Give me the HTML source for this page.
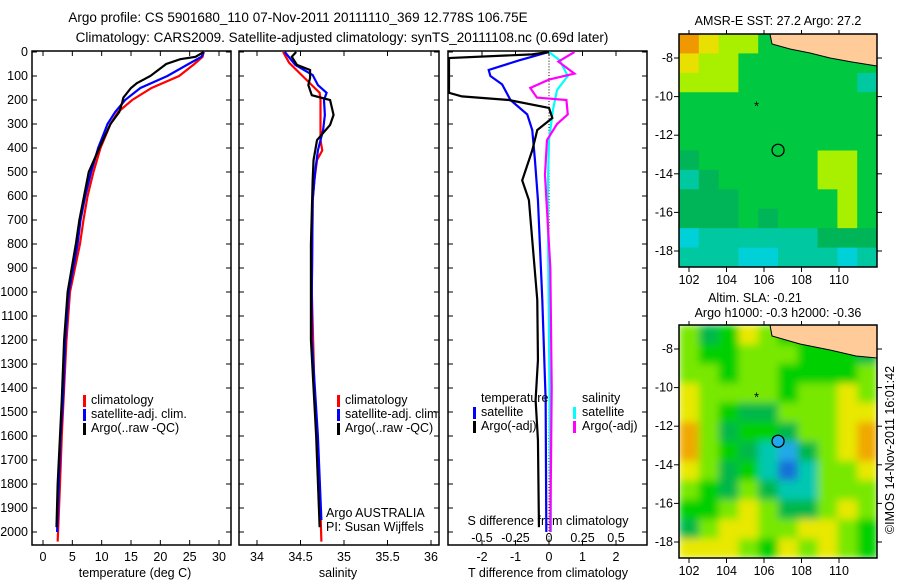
<!DOCTYPE html>
<html><head><meta charset="utf-8"><style>
body{margin:0;background:#fff}
svg{display:block;font-family:"Liberation Sans",sans-serif;font-size:12.5px}
</style></head><body>
<svg id="c" width="900" height="580" viewBox="0 0 900 580">
<defs>
<filter id="blur" x="0" y="0" width="1" height="1"><feGaussianBlur stdDeviation="4" edgeMode="duplicate"/></filter>
<clipPath id="clipSla"><rect x="679" y="325" width="198" height="233"/></clipPath>
</defs>
<text x="298" y="22" text-anchor="middle" font-size="13.5">Argo profile: CS 5901680_110 07-Nov-2011 20111110_369 12.778S 106.75E</text>
<text x="342" y="42" text-anchor="middle" font-size="13.5">Climatology: CARS2009. Satellite-adjusted climatology: synTS_20111108.nc (0.69d later)</text>
<g id="g"></g>
</svg>
<script>
// ---- data ----
const depthTicks=[0,100,200,300,400,500,600,700,800,900,1000,1100,1200,1300,1400,1500,1600,1700,1800,1900,2000];
const tTicks=[0,5,10,15,20,25,30];
const sTicks=[34,34.5,35,35.5,36];
const dTTicks=[-2,-1,0,1,2];
const dSTicks=[-0.5,-0.25,0,0.25,0.5];
const dSTickLabels=["-0.5","-0.25","0","0.25","0.5"];
const tClimDepth=[0,20,50,100,150,200,250,300,400,500,600,700,800,1000,1200,1450,1600,1800,2040];
const tClim=[27.4,27.2,25.8,23.2,18.5,15.2,12.8,11.5,9.8,8.6,7.6,6.9,6.3,4.6,4.0,3.5,3.2,2.9,2.5];
const tSatDepth=[0,20,50,100,150,200,250,300,400,500,600,700,800,1000,1200,1450,1600,1800,2000];
const tSat=[27.4,27.0,24.8,21.2,16.6,14.0,12.3,11.0,9.4,8.2,7.2,6.4,5.9,4.4,3.8,3.4,3.0,2.7,2.4];
const tArgoDepth=[0,20,30,50,100,130,150,190,210,250,300,400,500,600,700,800,1000,1200,1450,1600,1800,1980];
const tArgo=[27.4,26.0,23.4,21.0,18.3,16.0,15.0,13.7,13.5,13.0,11.5,9.6,7.8,7.0,6.2,5.6,4.2,3.6,3.2,2.9,2.5,2.3];
const sClimDepth=[0,45,88,138,170,200,367,410,450,533,617,1000,1400,1800,2040];
const sClim=[34.30,34.37,34.49,34.63,34.72,34.73,34.73,34.75,34.69,34.66,34.64,34.63,34.66,34.72,34.74];
const sSatDepth=[0,54,96,138,170,200,262,325,410,492,617,1000,1200,1600,1950];
const sSat=[34.32,34.44,34.64,34.70,34.80,34.77,34.78,34.76,34.70,34.67,34.64,34.63,34.63,34.70,34.74];
const sArgoDepth=[0,20,54,75,108,138,180,200,262,304,367,450,533,800,1200,1600,1980];
const sArgo=[34.45,34.40,34.46,34.61,34.61,34.59,34.63,34.84,34.88,34.84,34.69,34.65,34.64,34.62,34.62,34.68,34.72];
const dTSatDepth=[0,35,75,100,135,200,260,325,450,617,1033,1450,2000];
const dTSat=[0,-0.9,-1.8,-1.75,-1.4,-1.15,-0.65,-0.5,-0.42,-0.33,-0.2,-0.1,-0.08];
const dTArgoDepth=[0,10,25,170,185,200,233,275,325,410,535,617,783,1033,1283,1450,1617,1980];
const dTArgo=[0,-0.5,-3.2,-3.2,-2.6,-1.2,0,0.1,-0.35,-0.5,-0.8,-0.6,-0.5,-0.35,-0.33,-0.4,-0.33,-0.3];
const dSSatDepth=[0,35,100,158,240,367,600,1200,2000];
const dSSat=[0,0.08,0.14,0.06,0.03,0,-0.01,0.0,0.015];
const dSArgoDepth=[0,40,90,115,150,190,200,260,300,367,512,900,1400,2000];
const dSArgo=[0.19,0.07,0.19,0.0,-0.14,-0.09,0.13,0.14,0.06,-0.015,-0.03,0.01,0.02,0.01];
const sstColors={o:"#f09800",y:"#e8e000",l:"#a8f000",g:"#00c840",G:"#00b458",t:"#00c8a0",c:"#00d0d8"};
const sstGrid=["oyllgggggg","yllggggggg","lllggggggt","gggggggggg","gggggggggg","gggggggggg","Gggggggllg","tGgggggllg","GGGggggglg","GGGgGggglg","cttttttGGG","tttcctttct"];
const slaColors={y:"#c8f000",Y:"#e8e800",o:"#f0a800",l:"#78e800",g:"#00d000",G:"#00b848",t:"#00c8b0",b:"#20a8e8",B:"#1870d8"};
const slaGrid=["lGgYlggggg","lgglllgggG","llgllggggl","YllllgllYl","YlgGGlllYY","olGggGllYo","olgGtbGlYo","YlGgtBtllY","lgGlGttlll","gglYlGGlYl","GlYYllYYlg","YYYlgYlYlg"];
const lonTicks=[102,104,106,108,110];
const latTicks=[-8,-10,-12,-14,-16,-18];

// ---- helpers ----
const NS="http://www.w3.org/2000/svg";
const G=document.getElementById('g');
function mk(tag,attrs,parent){const e=document.createElementNS(NS,tag);for(const k in attrs)e.setAttribute(k,attrs[k]);(parent||G).appendChild(e);return e;}
function txt(x,y,s,anchor,parent){const e=mk('text',{x:x,y:y,'text-anchor':anchor||'start'},parent);e.textContent=s;return e;}
const Y=d=>52+d*0.24;
const xT=v=>43+v*5.867;
const xS=v=>257+(v-34)*87;
const xDT=v=>549+v*33.5;
const xDS=v=>549+v*134;
function line(xs,ds,fx,color,name,x0,x1){
  const pts=xs.map((v,i)=>Math.max(x0,Math.min(x1,fx(v)))+','+Y(ds[i])).join(' ');
  const p=mk('polyline',{points:pts,fill:'none',stroke:color,'stroke-width':2.2,'stroke-linejoin':'miter'});
  
  
}
function panel(x0,x1,name){
  const r=mk('rect',{x:x0,y:51,width:x1-x0,height:494,fill:'none',stroke:'#000','stroke-width':1.5});
  
  
  depthTicks.forEach(d=>{mk('line',{x1:x0,x2:x0+5,y1:Y(d),y2:Y(d),stroke:'#000'});mk('line',{x1:x1-5,x2:x1,y1:Y(d),y2:Y(d),stroke:'#000'});});
}
function legendBar(x,y,c){mk('rect',{x:x,y:y-10,width:3,height:12,fill:c});}

// ---- panel 1 temperature ----
panel(32,231,'temperature-panel');
depthTicks.forEach(d=>{const t=txt(28,Y(d)+4,String(d),'end');});
tTicks.forEach(v=>{mk('line',{x1:xT(v),x2:xT(v),y1:545,y2:540,stroke:'#000'});mk('line',{x1:xT(v),x2:xT(v),y1:51,y2:56,stroke:'#000'});const t=txt(xT(v),561,String(v),'middle');});
txt(135,577,'temperature (deg C)','middle');
line(tClim,tClimDepth,xT,'#ff0000','temperature-climatology-line',33,230);
line(tSat,tSatDepth,xT,'#0000ff','temperature-satellite-line',33,230);
line(tArgo,tArgoDepth,xT,'#000000','temperature-argo-line',33,230);
legendBar(83,405,'#f00');txt(91,404,'climatology');
legendBar(83,419,'#00f');txt(91,418,'satellite-adj. clim.');
legendBar(83,433,'#000');txt(91,432,'Argo(..raw -QC)');

// ---- panel 2 salinity ----
panel(239,439,'salinity-panel');
sTicks.forEach(v=>{mk('line',{x1:xS(v),x2:xS(v),y1:545,y2:540,stroke:'#000'});mk('line',{x1:xS(v),x2:xS(v),y1:51,y2:56,stroke:'#000'});const t=txt(xS(v),561,String(v),'middle');});
txt(338,577,'salinity','middle');
line(sClim,sClimDepth,xS,'#ff0000','salinity-climatology-line',240,438);
line(sSat,sSatDepth,xS,'#0000ff','salinity-satellite-line',240,438);
line(sArgo,sArgoDepth,xS,'#000000','salinity-argo-line',240,438);
legendBar(337,405,'#f00');txt(345,404,'climatology');
legendBar(337,419,'#00f');txt(345,418,'satellite-adj. clim.');
legendBar(337,433,'#000');txt(345,432,'Argo(..raw -QC)');
txt(326,517,'Argo AUSTRALIA');txt(326,531,'PI: Susan Wijffels');

// ---- panel 3 differences ----
panel(448,647,'difference-panel');
for(let d=0;d<=2040;d+=12){mk('rect',{x:548.5,y:Y(d),width:1,height:1,fill:'#000'});}
dTTicks.forEach(v=>{mk('line',{x1:xDT(v),x2:xDT(v),y1:545,y2:540,stroke:'#000'});mk('line',{x1:xDT(v),x2:xDT(v),y1:51,y2:56,stroke:'#000'});const t=txt(xDT(v),561,String(v),'middle');});
dSTicks.forEach((v,i)=>{const t=txt(xDS(v),542,dSTickLabels[i],'middle');});
txt(548,525,'S difference from climatology','middle');
txt(548,577,'T difference from climatology','middle');
line(dSSat,dSSatDepth,xDS,'#00ffff','salinity-diff-satellite-line',449,646);
line(dSArgo,dSArgoDepth,xDS,'#ff00ff','salinity-diff-argo-line',449,646);
line(dTSat,dTSatDepth,xDT,'#0000ff','temperature-diff-satellite-line',449,646);
line(dTArgo,dTArgoDepth,xDT,'#000000','temperature-diff-argo-line',449,646);
txt(481,402,'temperature');txt(582,402,'salinity');
legendBar(473,417,'#00f');txt(481,416,'satellite');
legendBar(573,417,'#0ff');txt(582,416,'satellite');
legendBar(473,431,'#000');txt(481,430,'Argo(-adj)');
legendBar(573,431,'#f0f');txt(582,430,'Argo(-adj)');

// ---- maps ----
function map(top,grid,colors,name,land,filled,smooth){
  const x0=679,x1=877,y1=top+233,cw=(x1-x0)/10,ch=233/12;
  const lonX=v=>689+(v-102)*18.75, latY=v=>top+24+(-8-v)*19.3;
  let cg=G;
  if(smooth){const outer=mk('g',{'clip-path':'url(#clipSla)'});cg=mk('g',{filter:'url(#blur)'},outer);}
  grid.forEach((row,r)=>{[...row].forEach((k,c)=>{
    const cell=mk('rect',{x:x0+c*cw,y:top+r*ch,width:cw+0.5,height:ch+0.5,fill:colors[k]},cg);
    
    
  });});
  mk('polygon',{points:land,fill:'#ffcc99',stroke:'#000','stroke-width':1});
  const fr=mk('rect',{x:x0,y:top,width:x1-x0,height:233,fill:'none',stroke:'#000','stroke-width':1.5});
  
  
  lonTicks.forEach(v=>{mk('line',{x1:lonX(v),x2:lonX(v),y1:y1,y2:y1+5,stroke:'#000'});mk('line',{x1:lonX(v),x2:lonX(v),y1:top,y2:top-4,stroke:'#000'});txt(lonX(v),y1+17,String(v),'middle');});
  latTicks.forEach(v=>{mk('line',{x1:x0-5,x2:x0,y1:latY(v),y2:latY(v),stroke:'#000'});mk('line',{x1:x1,x2:x1+5,y1:latY(v),y2:latY(v),stroke:'#000'});txt(673,latY(v)+4,String(v),'end');});
  txt(lonX(105.6),latY(-10.5)+4,'*','middle');
  mk('circle',{cx:lonX(106.75),cy:latY(-12.778),r:6,fill:filled||'none',stroke:'#000','stroke-width':1.3});
}
map(34,sstGrid,sstColors,'sst-map','770,34 772,44 790,49 810,53 830,58 852,62 877,66 877,34');
map(325,slaGrid,slaColors,'sla-map','770,325 772,336 800,344 830,350 856,356 877,358 877,325','#20a8e8',true);
txt(778,25,'AMSR-E SST: 27.2 Argo: 27.2','middle');
txt(755,302,'Altim. SLA: -0.21','middle');
txt(778,317,'Argo h1000: -0.3 h2000: -0.36','middle');
const im=txt(0,0,'©IMOS 14-Nov-2011 16:01:42','middle');
im.setAttribute('transform','translate(894,450) rotate(-90)');


</script>
</body></html>
